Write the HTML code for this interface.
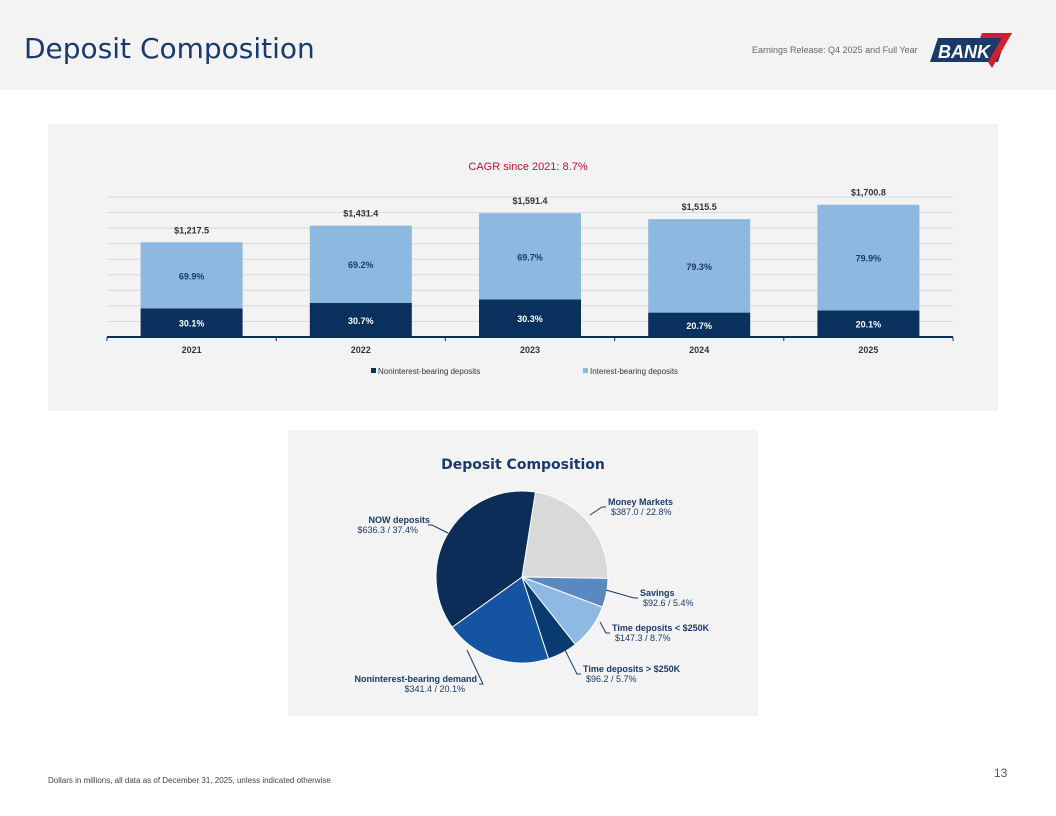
<!DOCTYPE html>
<html><head><meta charset="utf-8"><style>
body{margin:0;width:1056px;height:816px;background:#fff;font-family:"Liberation Sans",sans-serif;position:relative;overflow:hidden}
.abs{position:absolute}
</style></head><body>
<div class="abs" style="left:0;top:0;width:1056px;height:90px;background:#f3f3f3"></div>
<div class="abs" style="left:24px;top:32px;font-size:28px;color:#1b3a6b;font-family:'DejaVu Sans',sans-serif;letter-spacing:0px">Deposit Composition</div>
<div class="abs" style="left:752px;top:45px;font-size:9px;color:#666">Earnings Release: Q4 2025 and Full Year</div>
<svg class="abs" style="left:930px;top:30px" width="85" height="40">
<polygon points="8,8 76,8 68,32 0,32" fill="#1b3a6b"/>
<text x="8" y="28" font-size="18" font-weight="bold" font-style="italic" fill="#fff" font-family="Liberation Sans">BANK</text>
<polygon points="52,3 82,3 62,38 58,32 72,8 50,8" fill="#d0202e"/>
</svg>
<div class="abs" style="left:48px;top:124px;width:950px;height:287px;background:#f3f3f3"></div>
<svg class="abs" id="bar" style="left:0;top:0" width="1056" height="420"></svg>
<div class="abs" style="left:288px;top:430px;width:470px;height:286px;background:#f3f3f3"></div>
<svg class="abs" id="pie" style="left:0;top:0" width="1056" height="816"></svg>
<div class="abs" style="left:48px;top:776px;font-size:8px;color:#444">Dollars in millions, all data as of December 31, 2025, unless indicated otherwise</div>
<div class="abs" style="left:994px;top:766px;font-size:12px;color:#555">13</div>
<script>
const years=["2021","2022","2023","2024","2025"];
const totals=[1217.5,1431.4,1591.4,1515.5,1700.8];
const nonIntPct=[30.1,30.7,30.3,20.7,20.1];
const intPct=[69.9,69.2,69.7,79.3,79.9];
const totalLabels=["$1,217.5","$1,431.4","$1,591.4","$1,515.5","$1,700.8"];
const gridTicks=[200,400,600,800,1000,1200,1400,1600,1800];
const pieLabels=["Money Markets","Savings","Time deposits < $250K","Time deposits > $250K","Noninterest-bearing demand","NOW deposits"];
const pieValues=[387.0,92.6,147.3,96.2,341.4,636.3];
const piePct=[22.8,5.4,8.7,5.7,20.1,37.4];
const NS="http://www.w3.org/2000/svg";
function mk(svg,tag,a,txt){const e=document.createElementNS(NS,tag);for(const k in a)e.setAttribute(k,a[k]);if(txt!=null)e.textContent=txt;svg.appendChild(e);return e;}
const bar=document.getElementById('bar');
const x0=107,x1=953,yb=337,ymax=1800,ph=140;
const y=v=>yb-v/ymax*ph;
const cw=(x1-x0)/years.length,bw=102;
const cx=i=>x0+cw*(i+0.5);
let t=mk(bar,'text',{x:528,y:170,'text-anchor':'middle','font-size':11,fill:'#c8102e'},'CAGR since 2021: 8.7%');

gridTicks.forEach(g=>{const l=mk(bar,'line',{x1:x0,x2:x1,y1:y(g),y2:y(g),stroke:'#d9d9d9','stroke-width':1});
});
years.forEach((yr,i)=>{
 const n=totals[i]*nonIntPct[i]/100, tot=totals[i];
 let r=mk(bar,'rect',{x:cx(i)-bw/2,y:y(n),width:bw,height:yb-y(n),fill:'#0a305e'});
 
 r=mk(bar,'rect',{x:cx(i)-bw/2,y:y(tot),width:bw,height:y(n)-y(tot),fill:'#8db8e0'});
 
 let a=mk(bar,'text',{x:cx(i),y:(y(n)+yb)/2+4,'text-anchor':'middle','font-size':9,'font-weight':'bold',fill:'#fff'},nonIntPct[i].toFixed(1)+'%');
 
 a=mk(bar,'text',{x:cx(i),y:(y(n)+y(tot))/2+4,'text-anchor':'middle','font-size':9,'font-weight':'bold',fill:'#1b3a6b'},intPct[i].toFixed(1)+'%');
 
 a=mk(bar,'text',{x:cx(i),y:y(tot)-9,'text-anchor':'middle','font-size':9,'font-weight':'bold',fill:'#333'},totalLabels[i]);
 
 a=mk(bar,'text',{x:cx(i),y:yb+16,'text-anchor':'middle','font-size':9,'font-weight':'bold',fill:'#333'},yr);
 
});
let ax=mk(bar,'line',{x1:x0,x2:x1,y1:yb,y2:yb,stroke:'#0a305e','stroke-width':2});

for(let i=0;i<=years.length;i++){const tk=mk(bar,'line',{x1:x0+cw*i,x2:x0+cw*i,y1:yb,y2:yb+4,stroke:'#0a305e'});
}
[['#0a305e','Noninterest-bearing deposits',371],['#8db8e0','Interest-bearing deposits',583]].forEach(([c,s,lx])=>{
 const g=mk(bar,'g',{});
 mk(g,'rect',{x:lx,y:368,width:5,height:5,fill:c});mk(g,'text',{x:lx+7,y:374,'font-size':8,fill:'#333'},s);
});
const pie=document.getElementById('pie');
let pt=mk(pie,'text',{x:523,y:469,'text-anchor':'middle','font-size':14,'font-weight':'bold',fill:'#1b3a6b','font-family':'DejaVu Sans'},'Deposit Composition');

const pcx=522,pcy=577,R=86,start=9;
const colors=['#d9d9d9','#5a89c2','#8db9e2','#083b72','#1454a3','#0b2d58'];
const tot=pieValues.reduce((a,b)=>a+b,0);
// label anchor x, baseline y, anchor, leader end x, leader end y, leader start x
const lbl=[[608,505,'start',590,515,606],[640,596,'start',606,590,638],[612,631,'start',600,622,610],[583,672,'start',565,650,581],[477,682,'end',467,650,479],[430,523,'end',448,533,428]];
let ang=start;
pieValues.forEach((v,i)=>{
 const a0=ang*Math.PI/180,a1=(ang+v/tot*360)*Math.PI/180;ang+=v/tot*360;
 const p=(a)=>[pcx+R*Math.sin(a),pcy-R*Math.cos(a)];
 const [sx,sy]=p(a0),[ex,ey]=p(a1);
 const s=mk(pie,'path',{d:`M${pcx},${pcy}L${sx},${sy}A${R},${R} 0 ${a1-a0>Math.PI?1:0} 1 ${ex},${ey}Z`,fill:colors[i],stroke:'#fff','stroke-width':1});
 
 const [lx,ly,anc,ex2,ey2,ls]=lbl[i];
 const lead=mk(pie,'polyline',{points:`${ls},${ly+2} ${ls+(anc==='start'?-4:4)},${ly+2} ${ex2},${ey2}`,fill:'none',stroke:'#1b3a6b','stroke-width':1});
 
 const g=mk(pie,'g',{});
 mk(g,'text',{x:lx,y:ly,'text-anchor':anc,'font-size':9,'font-weight':'bold',fill:'#1b3a6b'},pieLabels[i]);
 mk(g,'text',{x:anc==='start'?lx+3:lx-12,y:ly+10,'text-anchor':anc,'font-size':9,fill:'#1b3a6b'},'$'+pieValues[i].toFixed(1)+' / '+piePct[i].toFixed(1)+'%');
});
</script>
</body></html>
